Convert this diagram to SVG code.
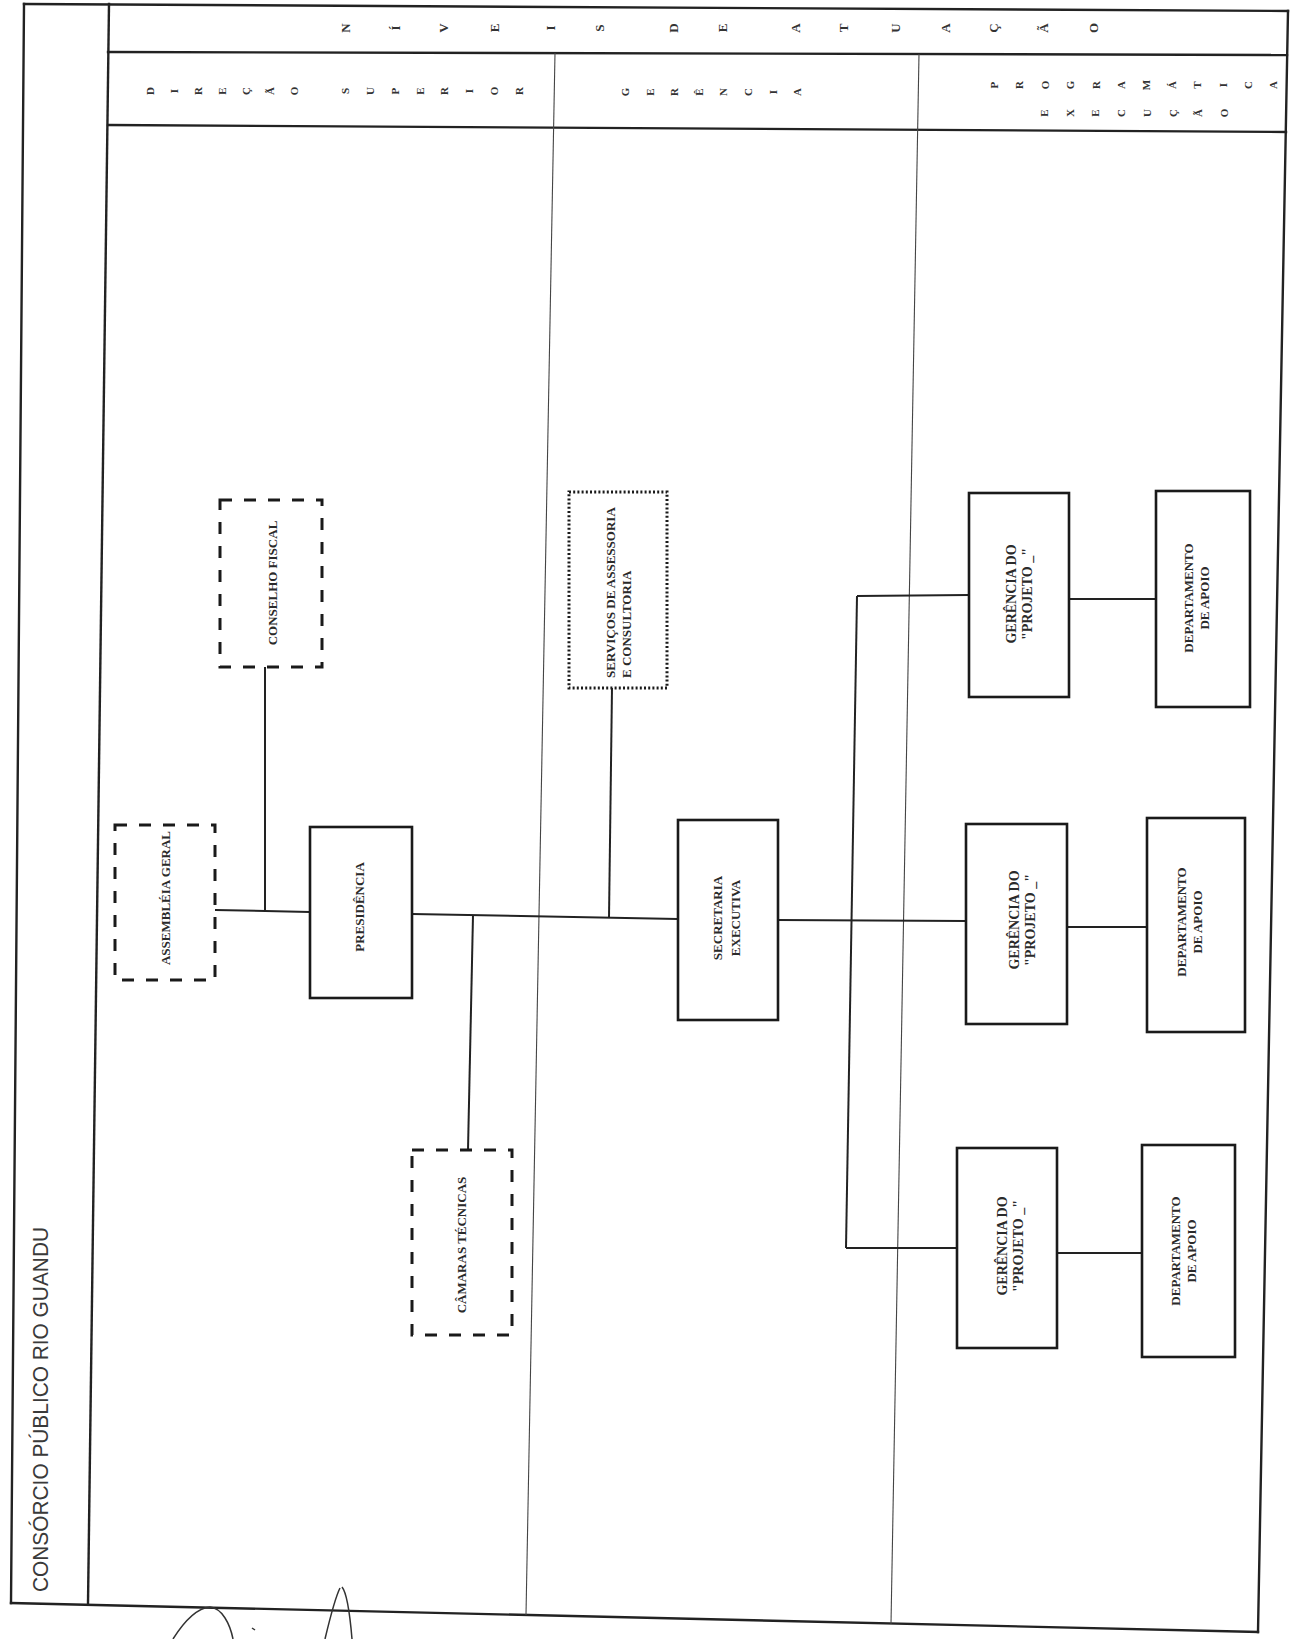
<svg xmlns="http://www.w3.org/2000/svg" width="1293" height="1639" viewBox="0 0 1293 1639">
<style>
.frame{stroke:#222;stroke-width:2.4;fill:none;stroke-linecap:square}
.div{stroke:#444;stroke-width:1.1;fill:none}
.box{fill:#fff;stroke:#1a1a1a;stroke-width:2.6}
.dash{fill:#fff;stroke:#1a1a1a;stroke-width:3;stroke-dasharray:12 12}
.dot{fill:#fff;stroke:#1a1a1a;stroke-width:3;stroke-dasharray:2 2.2}
.con{stroke:#222;stroke-width:2;fill:none}
.lbl{font-family:"Liberation Serif","Times New Roman",serif;font-size:13px;font-weight:bold;fill:#2a2a2a;text-anchor:middle;dominant-baseline:central}
.g{font-size:14px}
.h1{font-family:"Liberation Serif","Times New Roman",serif;font-size:13px;font-weight:bold;fill:#333;text-anchor:middle;dominant-baseline:central}
.h2{font-family:"Liberation Serif","Times New Roman",serif;font-size:11px;font-weight:bold;fill:#333;text-anchor:middle;dominant-baseline:central}
.title{font-family:"Liberation Sans",Arial,sans-serif;font-size:22px;fill:#3a3a3a}
.sig{stroke:#333;stroke-width:1.5;fill:none}
</style>
<rect width="1293" height="1639" fill="#fff"/>

<g id="frame">
  <line class="frame" x1="24" y1="4" x2="1288" y2="11"/>
  <line class="frame" x1="108" y1="52" x2="1287" y2="55"/>
  <line class="frame" x1="108" y1="125" x2="1286" y2="132"/>
  <line class="frame" x1="24" y1="4" x2="11" y2="1603"/>
  <line class="frame" x1="109" y1="4" x2="88" y2="1604"/>
  <line class="frame" x1="1288" y1="11" x2="1258" y2="1632"/>
  <line class="frame" x1="11" y1="1603" x2="1258" y2="1632"/>
  <line class="div" x1="555" y1="53" x2="526" y2="1615"/>
  <line class="div" x1="919" y1="54" x2="891" y2="1624"/>
  <text class="title" transform="translate(48 1592) rotate(-90)" x="0" y="0" textLength="365" lengthAdjust="spacingAndGlyphs">CONSÓRCIO PÚBLICO RIO GUANDU</text>
</g>

<g id="header">
  <g id="row1">
    <text class="h1" transform="rotate(-90 345 28)" x="345" y="28">N</text>
    <text class="h1" transform="rotate(-90 395 28)" x="395" y="28">Í</text>
    <text class="h1" transform="rotate(-90 443 28)" x="443" y="28">V</text>
    <text class="h1" transform="rotate(-90 494 28)" x="494" y="28">E</text>
    <text class="h1" transform="rotate(-90 550 28)" x="550" y="28">I</text>
    <text class="h1" transform="rotate(-90 599 28)" x="599" y="28">S</text>
    <text class="h1" transform="rotate(-90 673 28)" x="673" y="28">D</text>
    <text class="h1" transform="rotate(-90 722 28)" x="722" y="28">E</text>
    <text class="h1" transform="rotate(-90 795 28)" x="795" y="28">A</text>
    <text class="h1" transform="rotate(-90 843 28)" x="843" y="28">T</text>
    <text class="h1" transform="rotate(-90 895 28)" x="895" y="28">U</text>
    <text class="h1" transform="rotate(-90 945 28)" x="945" y="28">A</text>
    <text class="h1" transform="rotate(-90 993 28)" x="993" y="28">Ç</text>
    <text class="h1" transform="rotate(-90 1043 28)" x="1043" y="28">Ã</text>
    <text class="h1" transform="rotate(-90 1093 28)" x="1093" y="28">O</text>
  </g>
  <g id="row2-direcao">
    <text class="h2" transform="rotate(-90 150 91)" x="150" y="91">D</text>
    <text class="h2" transform="rotate(-90 174 91)" x="174" y="91">I</text>
    <text class="h2" transform="rotate(-90 198 91)" x="198" y="91">R</text>
    <text class="h2" transform="rotate(-90 222 91)" x="222" y="91">E</text>
    <text class="h2" transform="rotate(-90 246 91)" x="246" y="91">Ç</text>
    <text class="h2" transform="rotate(-90 270 91)" x="270" y="91">Ã</text>
    <text class="h2" transform="rotate(-90 294 91)" x="294" y="91">O</text>
    <text class="h2" transform="rotate(-90 345 91)" x="345" y="91">S</text>
    <text class="h2" transform="rotate(-90 370 91)" x="370" y="91">U</text>
    <text class="h2" transform="rotate(-90 395 91)" x="395" y="91">P</text>
    <text class="h2" transform="rotate(-90 420 91)" x="420" y="91">E</text>
    <text class="h2" transform="rotate(-90 444 91)" x="444" y="91">R</text>
    <text class="h2" transform="rotate(-90 469 91)" x="469" y="91">I</text>
    <text class="h2" transform="rotate(-90 494 91)" x="494" y="91">O</text>
    <text class="h2" transform="rotate(-90 519 91)" x="519" y="91">R</text>
  </g>
  <g id="row2-gerencia">
    <text class="h2" transform="rotate(-90 625 92)" x="625" y="92">G</text>
    <text class="h2" transform="rotate(-90 650 92)" x="650" y="92">E</text>
    <text class="h2" transform="rotate(-90 674 92)" x="674" y="92">R</text>
    <text class="h2" transform="rotate(-90 699 92)" x="699" y="92">Ê</text>
    <text class="h2" transform="rotate(-90 723 92)" x="723" y="92">N</text>
    <text class="h2" transform="rotate(-90 748 92)" x="748" y="92">C</text>
    <text class="h2" transform="rotate(-90 773 92)" x="773" y="92">I</text>
    <text class="h2" transform="rotate(-90 797 92)" x="797" y="92">A</text>
  </g>
  <g id="row2-programatica">
    <text class="h2" transform="rotate(-90 994 85)" x="994" y="85">P</text>
    <text class="h2" transform="rotate(-90 1019 85)" x="1019" y="85">R</text>
    <text class="h2" transform="rotate(-90 1045 85)" x="1045" y="85">O</text>
    <text class="h2" transform="rotate(-90 1070 85)" x="1070" y="85">G</text>
    <text class="h2" transform="rotate(-90 1096 85)" x="1096" y="85">R</text>
    <text class="h2" transform="rotate(-90 1121 85)" x="1121" y="85">A</text>
    <text class="h2" transform="rotate(-90 1146 85)" x="1146" y="85">M</text>
    <text class="h2" transform="rotate(-90 1172 85)" x="1172" y="85">Á</text>
    <text class="h2" transform="rotate(-90 1197 85)" x="1197" y="85">T</text>
    <text class="h2" transform="rotate(-90 1223 85)" x="1223" y="85">I</text>
    <text class="h2" transform="rotate(-90 1248 85)" x="1248" y="85">C</text>
    <text class="h2" transform="rotate(-90 1273 85)" x="1273" y="85">A</text>
    <text class="h2" transform="rotate(-90 1044 113)" x="1044" y="113">E</text>
    <text class="h2" transform="rotate(-90 1070 113)" x="1070" y="113">X</text>
    <text class="h2" transform="rotate(-90 1095 113)" x="1095" y="113">E</text>
    <text class="h2" transform="rotate(-90 1121 113)" x="1121" y="113">C</text>
    <text class="h2" transform="rotate(-90 1147 113)" x="1147" y="113">U</text>
    <text class="h2" transform="rotate(-90 1173 113)" x="1173" y="113">Ç</text>
    <text class="h2" transform="rotate(-90 1198 113)" x="1198" y="113">Ã</text>
    <text class="h2" transform="rotate(-90 1224 113)" x="1224" y="113">O</text>
  </g>
</g>

<g id="connectors">
  <line class="con" x1="215" y1="910" x2="310" y2="912"/>
  <line class="con" x1="265" y1="667" x2="265" y2="911"/>
  <line class="con" x1="412" y1="914" x2="678" y2="919"/>
  <line class="con" x1="473" y1="915" x2="468" y2="1150"/>
  <line class="con" x1="612" y1="688" x2="609" y2="918"/>
  <line class="con" x1="778" y1="920" x2="966" y2="921"/>
  <line class="con" x1="857" y1="596" x2="846" y2="1248"/>
  <line class="con" x1="857" y1="596" x2="969" y2="595"/>
  <line class="con" x1="846" y1="1248" x2="957" y2="1248"/>
  <line class="con" x1="1069" y1="599" x2="1156" y2="599"/>
  <line class="con" x1="1067" y1="927" x2="1147" y2="927"/>
  <line class="con" x1="1057" y1="1253" x2="1142" y2="1253"/>
</g>

<g id="conselho-fiscal">
  <rect class="dash" x="220" y="500" width="102" height="167"/>
  <text class="lbl" transform="rotate(-90 272 583)" x="272" y="583">CONSELHO FISCAL</text>
</g>
<g id="assembleia-geral">
  <rect class="dash" x="115" y="825" width="100" height="155"/>
  <text class="lbl" transform="rotate(-90 165 898)" x="165" y="898">ASSEMBLÉIA GERAL</text>
</g>
<g id="presidencia">
  <rect class="box" x="310" y="827" width="102" height="171"/>
  <text class="lbl" transform="rotate(-90 359 907)" x="359" y="907">PRESIDÊNCIA</text>
</g>
<g id="camaras-tecnicas">
  <rect class="dash" x="412" y="1150" width="100" height="185"/>
  <text class="lbl" transform="rotate(-90 461 1245)" x="461" y="1245">CÂMARAS TÉCNICAS</text>
</g>
<g id="servicos">
  <rect class="dot" x="569" y="492" width="98" height="196"/>
  <g transform="translate(618 678) rotate(-90)">
    <text class="lbl" style="text-anchor:start" x="0" y="-8">SERVIÇOS DE ASSESSORIA</text>
    <text class="lbl" style="text-anchor:start" x="0" y="8">E CONSULTORIA</text>
  </g>
</g>
<g id="secretaria-executiva">
  <rect class="box" x="678" y="820" width="100" height="200"/>
  <g transform="translate(726 918) rotate(-90)">
    <text class="lbl" x="0" y="-9">SECRETARIA</text>
    <text class="lbl" x="0" y="9">EXECUTIVA</text>
  </g>
</g>
<g id="gerencia-1">
  <rect class="box" x="969" y="493" width="100" height="204"/>
  <g transform="translate(1019 594) rotate(-90)">
    <text class="lbl g" x="0" y="-8">GERÊNCIA DO</text>
    <text class="lbl g" x="0" y="8">"PROJETO _"</text>
  </g>
</g>
<g id="departamento-1">
  <rect class="box" x="1156" y="491" width="94" height="216"/>
  <g transform="translate(1196 598) rotate(-90)">
    <text class="lbl" x="0" y="-8">DEPARTAMENTO</text>
    <text class="lbl" x="0" y="8">DE APOIO</text>
  </g>
</g>
<g id="gerencia-2">
  <rect class="box" x="966" y="824" width="101" height="200"/>
  <g transform="translate(1022 920) rotate(-90)">
    <text class="lbl g" x="0" y="-8">GERÊNCIA DO</text>
    <text class="lbl g" x="0" y="8">"PROJETO _"</text>
  </g>
</g>
<g id="departamento-2">
  <rect class="box" x="1147" y="818" width="98" height="214"/>
  <g transform="translate(1189 922) rotate(-90)">
    <text class="lbl" x="0" y="-8">DEPARTAMENTO</text>
    <text class="lbl" x="0" y="8">DE APOIO</text>
  </g>
</g>
<g id="gerencia-3">
  <rect class="box" x="957" y="1148" width="100" height="200"/>
  <g transform="translate(1010 1246) rotate(-90)">
    <text class="lbl g" x="0" y="-8">GERÊNCIA DO</text>
    <text class="lbl g" x="0" y="8">"PROJETO _"</text>
  </g>
</g>
<g id="departamento-3">
  <rect class="box" x="1142" y="1145" width="93" height="212"/>
  <g transform="translate(1183 1251) rotate(-90)">
    <text class="lbl" x="0" y="-8">DEPARTAMENTO</text>
    <text class="lbl" x="0" y="8">DE APOIO</text>
  </g>
</g>

<g id="signature">
  <path class="sig" d="M173 1639 C185 1620 198 1608 210 1607 C222 1608 230 1624 233 1639"/>
  <path class="sig" d="M252 1628 l3 2"/>
  <path class="sig" d="M325 1639 C330 1618 335 1598 340 1588"/>
  <path class="sig" d="M342 1587 C347 1593 350 1615 352 1639"/>
</g>
</svg>
